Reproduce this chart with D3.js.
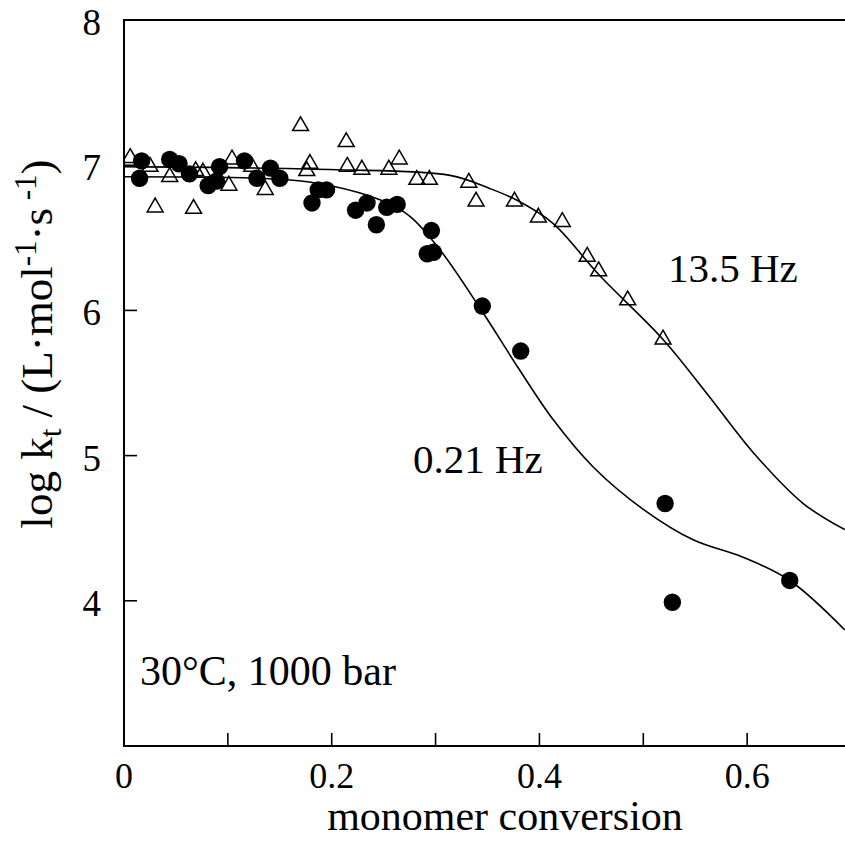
<!DOCTYPE html>
<html>
<head>
<meta charset="utf-8">
<script src="https://cdn.jsdelivr.net/npm/d3@7"></script>
<style>
  body { margin: 0; background: #fff; }
  svg text { font-family: "Liberation Serif", "Times New Roman", serif; fill: #000; }
</style>
</head>
<body>
<div id="chart"></div>
<script>
// 13.5 Hz data (open triangles)
const hzHighX = [0.006, 0.025, 0.030, 0.044, 0.067, 0.069, 0.076, 0.104, 0.101, 0.123, 0.136, 0.170, 0.179, 0.176,
  0.214, 0.215, 0.229, 0.255, 0.265, 0.282, 0.294, 0.332, 0.339, 0.376, 0.399, 0.422, 0.446, 0.457, 0.485, 0.519];
const hzHighY = [7.05, 6.99, 6.71, 6.92, 6.70, 6.96, 6.95, 7.04, 6.86, 6.99, 6.83, 7.27, 7.01, 6.96,
  7.16, 6.99, 6.97, 6.97, 7.04, 6.90, 6.90, 6.88, 6.75, 6.75, 6.64, 6.61, 6.37, 6.27, 6.07, 5.80];

// 0.21 Hz data (filled circles)
const hzLowX = [0.017, 0.015, 0.044, 0.053, 0.063, 0.081, 0.089, 0.092, 0.116, 0.128, 0.141, 0.150, 0.181, 0.187,
  0.195, 0.223, 0.234, 0.243, 0.253, 0.263, 0.296, 0.292, 0.298, 0.345, 0.382, 0.521, 0.528, 0.641];
const hzLowY = [7.03, 6.91, 7.04, 7.01, 6.94, 6.86, 6.89, 6.99, 7.03, 6.91, 6.98, 6.91, 6.74, 6.83,
  6.83, 6.69, 6.74, 6.59, 6.71, 6.73, 6.55, 6.39, 6.40, 6.03, 5.72, 4.67, 3.99, 4.14];

// fitted curves
const fitHighX = [0, 0.198, 0.314, 0.352, 0.378, 0.413, 0.458, 0.519, 0.561, 0.606, 0.654, 0.694];
const fitHighY = [6.99, 6.97, 6.93, 6.84, 6.76, 6.60, 6.24, 5.80, 5.43, 5.02, 4.67, 4.49];
const fitLowX = [0, 0.157, 0.198, 0.247, 0.275, 0.304, 0.346, 0.380, 0.413, 0.452, 0.500, 0.548, 0.596, 0.641, 0.694];
const fitLowY = [6.92, 6.90, 6.86, 6.76, 6.65, 6.42, 5.98, 5.60, 5.25, 4.92, 4.63, 4.42, 4.30, 4.14, 3.80];

const xTicks = [0, 0.1, 0.2, 0.3, 0.4, 0.5, 0.6, 0.7];
const xTickLabels = ['0', '', '0.2', '', '0.4', '', '0.6', ''];
const yTicks = [4, 5, 6, 7, 8];
const yTickLabels = ['4', '5', '6', '7', '8'];

const W = 845, H = 841;
const mLeft = 124, mTop = 20, mBottom = 746, mRight = 851;

const svg = d3.select('#chart').append('svg').attr('width', W).attr('height', H);
const x = d3.scaleLinear().domain([0, 0.7]).range([mLeft, mRight]);
const y = d3.scaleLinear().domain([3, 8]).range([mBottom, mTop]);

svg.append('clipPath').attr('id', 'plot')
  .append('rect').attr('x', mLeft).attr('y', mTop).attr('width', mRight - mLeft).attr('height', mBottom - mTop);

// frame: left, bottom, top
svg.append('path')
  .attr('d', `M${W},${mTop}H${mLeft}V${mBottom}H${W}`)
  .attr('fill', 'none').attr('stroke', '#000').attr('stroke-width', 2);

// ticks (inward)
svg.append('g').selectAll('line').data(xTicks).join('line')
  .attr('x1', d => x(d)).attr('x2', d => x(d))
  .attr('y1', mBottom).attr('y2', mBottom - 13)
  .attr('stroke', '#000').attr('stroke-width', 1.6);
svg.append('g').selectAll('line').data(yTicks).join('line')
  .attr('x1', mLeft).attr('x2', mLeft + 13)
  .attr('y1', d => y(d)).attr('y2', d => y(d))
  .attr('stroke', '#000').attr('stroke-width', 1.6);

// tick labels
svg.append('g').selectAll('text').data(xTicks).join('text')
  .attr('x', d => x(d)).attr('y', 788)
  .attr('text-anchor', 'middle').attr('font-size', 36)
  .text((d, i) => xTickLabels[i]);
svg.append('g').selectAll('text').data(yTicks).join('text')
  .attr('x', 101).attr('y', d => y(d) + 15)
  .attr('text-anchor', 'end').attr('font-size', 37)
  .text((d, i) => yTickLabels[i]);

// axis titles
svg.append('text').attr('x', 505).attr('y', 830)
  .attr('text-anchor', 'middle').attr('font-size', 42)
  .text('monomer conversion');

const yt = svg.append('text')
  .attr('transform', 'translate(52,344) rotate(-90)')
  .attr('text-anchor', 'middle').attr('font-size', 45);
yt.append('tspan').text('log k');
yt.append('tspan').attr('dy', 9).attr('font-size', 31).text('t');
yt.append('tspan').attr('dy', -9).text(' / (L·mol');
yt.append('tspan').attr('dy', -16).attr('font-size', 31).text('-1');
yt.append('tspan').attr('dy', 16).text('·s');
yt.append('tspan').attr('dy', -16).attr('font-size', 31).text(' -1');
yt.append('tspan').attr('dy', 16).text(')');

// curves
const g = svg.append('g').attr('clip-path', 'url(#plot)');
const line = d3.line().x(d => x(d[0])).y(d => y(d[1])).curve(d3.curveCatmullRom.alpha(0.5));
g.append('path').datum(fitHighX.map((v, i) => [v, fitHighY[i]]))
  .attr('d', line).attr('fill', 'none').attr('stroke', '#000').attr('stroke-width', 1.6);
g.append('path').datum(fitLowX.map((v, i) => [v, fitLowY[i]]))
  .attr('d', line).attr('fill', 'none').attr('stroke', '#000').attr('stroke-width', 1.6);

// markers
const tri = d3.symbol().type(d3.symbolTriangle).size(110);
g.append('g').selectAll('path').data(hzHighX).join('path')
  .attr('transform', (d, i) => `translate(${x(d)},${y(hzHighY[i])})`)
  .attr('d', tri).attr('fill', 'none').attr('stroke', '#000').attr('stroke-width', 1.5);
g.append('g').selectAll('circle').data(hzLowX).join('circle')
  .attr('cx', d => x(d)).attr('cy', (d, i) => y(hzLowY[i]))
  .attr('r', 8.7).attr('fill', '#000');

// annotations
svg.append('text').attr('x', 668).attr('y', 282).attr('font-size', 41).text('13.5 Hz');
svg.append('text').attr('x', 413).attr('y', 473).attr('font-size', 41).text('0.21 Hz');
svg.append('text').attr('x', 140).attr('y', 685).attr('font-size', 42).text('30°C, 1000 bar');
</script>
</body>
</html>
